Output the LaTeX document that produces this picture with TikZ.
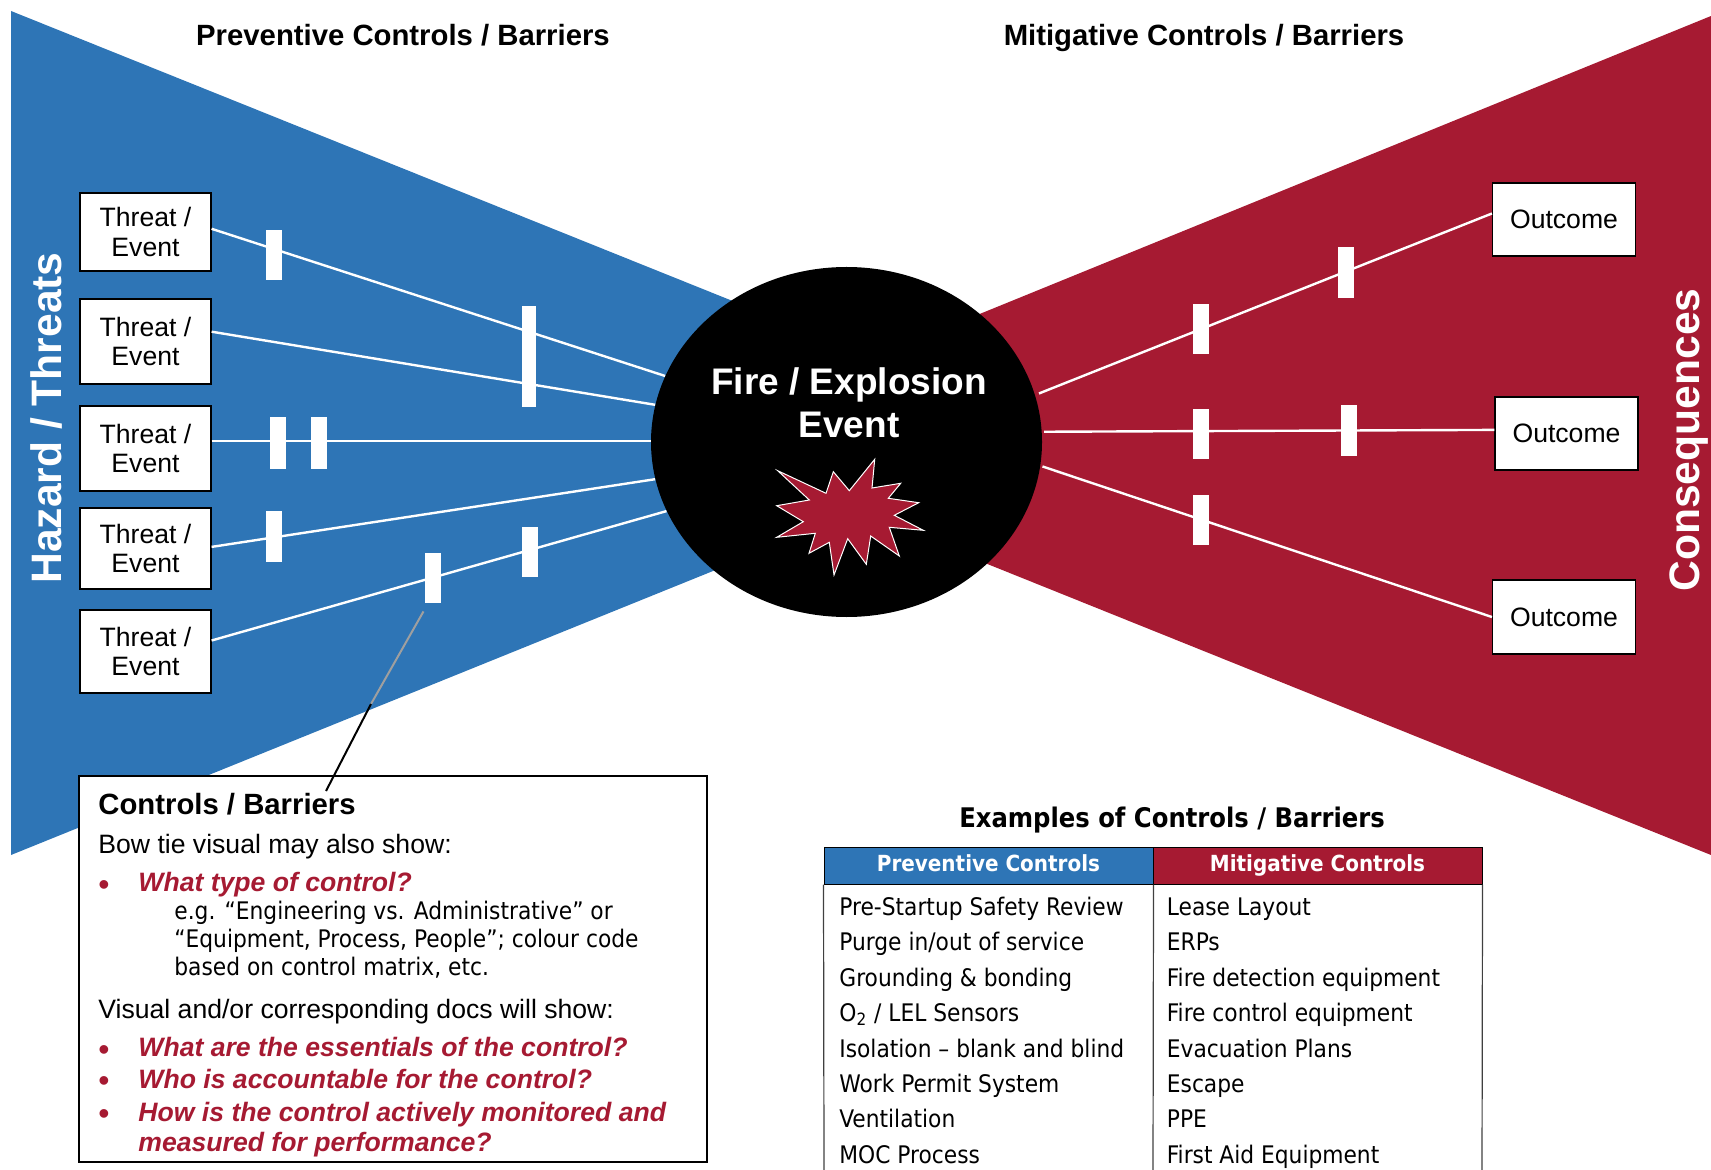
\documentclass[tikz,border=0pt]{standalone}
\usepackage{fontspec}
\setmainfont{Liberation Sans}
\newfontfamily\tablefont{DejaVu Sans Condensed}
\usetikzlibrary{shapes.geometric}
\definecolor{tieblue}{RGB}{46,117,182}
\definecolor{tiered}{RGB}{166,26,50}
\tikzset{
  threatbox/.style={draw=black,fill=white,line width=0.6pt,align=center,font=\fontsize{13.3}{14.6}\selectfont,inner sep=0pt},
  barrier/.style={fill=white,inner sep=0pt,minimum width=8pt},
  whiteline/.style={draw=white,line width=1.2pt},
  bodytext/.style={anchor=base west,inner sep=0pt,font=\fontsize{13.3}{16}\selectfont},
  redtext/.style={anchor=base west,inner sep=0pt,text=tiered,font=\fontsize{13.3}{16}\selectfont\bfseries\itshape},
  reddot/.style={anchor=base west,inner sep=0pt,text=tiered,font=\fontsize{16}{16}\selectfont},
  smalltext/.style={anchor=base west,inner sep=0pt,font=\tablefont\fontsize{12.1}{14}\selectfont},
  bigtext/.style={inner sep=0pt,text=white,font=\fontsize{21.3}{24}\selectfont\bfseries},
  headtext/.style={inner sep=0pt,font=\fontsize{14.65}{16}\selectfont\bfseries},
  headcell/.style={draw=black,line width=0.5pt,inner sep=0pt,minimum width=164.5pt,minimum height=18.5pt,text height=8.6pt,text depth=2.9pt,text=white,font=\tablefont\fontsize{11.1}{14}\selectfont\bfseries},
  tableline/.style={line width=0.6pt,black!75}
}
\begin{document}
\begin{tikzpicture}[x=0.5pt,y=-0.5pt]
\useasboundingbox (0,0) rectangle (1711,1170);

\fill[tieblue] (11,11) -- (760,312) -- (760,552) -- (11,855) -- cycle;
\fill[tiered] (1711,16) -- (960,322) -- (960,553) -- (1711,855) -- cycle;

\node[threatbox,minimum width=65.5pt,minimum height=39pt] (threat1) at (145.5,232) {Threat /\\Event};
\node[threatbox,minimum width=65.5pt,minimum height=42.5pt] (threat2) at (145.5,341.5) {Threat /\\Event};
\node[threatbox,minimum width=65.5pt,minimum height=42.5pt] (threat3) at (145.5,448.5) {Threat /\\Event};
\node[threatbox,minimum width=65.5pt,minimum height=40.5pt] (threat4) at (145.5,548.5) {Threat /\\Event};
\node[threatbox,minimum width=65.5pt,minimum height=41.5pt] (threat5) at (145.5,651.5) {Threat /\\Event};

\node[threatbox,minimum width=71.5pt,minimum height=36.5pt] (outcome1) at (1564,219.5) {Outcome};
\node[threatbox,minimum width=71.5pt,minimum height=36.5pt] (outcome2) at (1566.5,433.5) {Outcome};
\node[threatbox,minimum width=71.5pt,minimum height=37pt] (outcome3) at (1564,617) {Outcome};

\node[ellipse,fill=black,inner sep=0pt,minimum width=195.5pt,minimum height=175pt] (event) at (846.5,442) {};

\draw[whiteline] ([yshift=1.6pt]threat1.east) -- (event.160);
\draw[whiteline] ([yshift=4.9pt]threat2.east) -- (event.169);
\draw[whiteline] ([yshift=3.75pt]threat3.east) -- ([yshift=0.5pt]event.180);
\draw[whiteline] ([yshift=0.8pt]threat4.east) -- (event.191);
\draw[whiteline] ([yshift=5.5pt]threat5.east) -- (event.201);
\draw[whiteline,shorten >=2pt] ([yshift=3pt]outcome1.west) -- (event.14);
\draw[whiteline,shorten >=1pt] ([yshift=1.8pt]outcome2.west) -- (event.3.5);
\draw[whiteline,shorten >=1pt] (outcome3.west) -- (event.-7);

\node[barrier,minimum height=25pt] (bar1) at (274,255) {};
\node[barrier,minimum width=7pt,minimum height=50.5pt] (bar2) at (529,357) {};
\node[barrier,minimum height=25.5pt] (bar3) at (277.5,443) {};
\node[barrier,minimum height=25.5pt] (bar4) at (319,443) {};
\node[barrier,minimum height=25.5pt] (bar5) at (274,536) {};
\node[barrier,minimum height=25pt] (bar6) at (432.5,578) {};
\node[barrier,minimum height=25pt] (bar7) at (530,552) {};
\node[barrier,minimum height=25.5pt] (bar8) at (1345.5,273) {};
\node[barrier,minimum height=25pt] (bar9) at (1200.5,329) {};
\node[barrier,minimum height=25pt] (bar10) at (1200.5,434.5) {};
\node[barrier,minimum height=25.5pt] (bar11) at (1348.5,430.5) {};
\node[barrier,minimum height=25pt] (bar12) at (1200.5,520) {};

\node[bigtext,rotate=90] (hazard) at (46,418) {Hazard / Threats};
\node[bigtext,rotate=90] (consequences) at (1689,440) {Consequences};
\node[headtext,anchor=base] (prevhead) at (403,46) {Preventive Controls / Barriers};
\node[headtext,anchor=base] (mitihead) at (1204,46) {Mitigative Controls / Barriers};

\node[bigtext,align=center,font=\fontsize{18.5}{21.5}\selectfont\bfseries] (eventtext) at (849,403) {Fire / Explosion\\Event};
\draw[draw=white,fill=tiered,line width=0.5pt] (777.7,470.7) -- (826,493.3) -- (833.3,471.7) -- (849.3,490.7) -- (874.7,459.3) -- (872,488) -- (900.7,483.3) -- (888.3,498.3) -- (918.7,502.7) -- (894.3,515.3) -- (923.3,530.3) -- (889.3,527.3) -- (899.3,556) -- (870.7,536) -- (866.3,564.3) -- (847.7,538.7) -- (834,575) -- (829.3,542.3) -- (809,553.3) -- (815.3,533.3) -- (776.7,537.3) -- (803.3,521.7) -- (776.7,505.7) -- (809.3,500) -- cycle;

\node[draw=black,fill=white,line width=0.6pt,inner sep=0pt,minimum width=314pt,minimum height=193pt] (ctrlbox) at (393,969) {};
\coordinate (leaderend) at (326,791);
\coordinate (leadermid) at (371,704);
\draw[line width=1pt,gray!75] (bar6.south)++(-9,8) -- (leadermid);
\draw[line width=1pt,black] (leadermid) -- (leaderend);

\node[headtext,anchor=base west] (ctrltitle) at (98,814) {Controls / Barriers};
\node[bodytext] (ctrl1) at (98,853) {Bow tie visual may also show:};
\node[reddot] (dot1) at (98,895) {•};
\node[redtext] (ctrl2) at (138,891) {What type of control?};
\node[smalltext] (ctrl3) at (174,919) {e.g. “Engineering vs. Administrative” or};
\node[smalltext] (ctrl4) at (174,947) {“Equipment, Process, People”; colour code};
\node[smalltext] (ctrl5) at (174,975) {based on control matrix, etc.};
\node[bodytext] (ctrl6) at (98,1018) {Visual and/or corresponding docs will show:};
\node[reddot] (dot2) at (98,1060) {•};
\node[redtext] (ctrl7) at (138,1056) {What are the essentials of the control?};
\node[reddot] (dot3) at (98,1091) {•};
\node[redtext] (ctrl8) at (138,1088) {Who is accountable for the control?};
\node[reddot] (dot4) at (98,1124) {•};
\node[redtext] (ctrl9) at (138,1121) {How is the control actively monitored and};
\node[redtext] (ctrl10) at (138,1151) {measured for performance?};

\node[inner sep=0pt,anchor=base,font=\tablefont\fontsize{13.5}{16}\selectfont\bfseries] (tabletitle) at (1172,827) {Examples of Controls / Barriers};
\node[headcell,fill=tieblue] (prevcell) at (988.5,865.5) {Preventive Controls};
\node[headcell,fill=tiered] (miticell) at (1317.5,865.5) {Mitigative Controls};
\coordinate (tableleft) at (824,1170);
\coordinate (tablemid) at (1153,1170);
\coordinate (tableright) at (1482,1170);
\draw[tableline] (prevcell.south west) -- (tableleft);
\draw[tableline] (prevcell.south east) -- (tablemid);
\draw[tableline] (miticell.south east) -- (tableright);

\node[smalltext] (prev1) at (839,915) {Pre-Startup Safety Review};
\node[smalltext] (prev2) at (839,950) {Purge in/out of service};
\node[smalltext] (prev3) at (839,986) {Grounding \& bonding};
\node[smalltext] (prev4) at (839,1021) {O\textsubscript{2} / LEL Sensors};
\node[smalltext] (prev5) at (839,1057) {Isolation – blank and blind};
\node[smalltext] (prev6) at (839,1092) {Work Permit System};
\node[smalltext] (prev7) at (839,1127) {Ventilation};
\node[smalltext] (prev8) at (839,1163) {MOC Process};
\node[smalltext] (miti1) at (1166.5,915) {Lease Layout};
\node[smalltext] (miti2) at (1166.5,950) {ERPs};
\node[smalltext] (miti3) at (1166.5,986) {Fire detection equipment};
\node[smalltext] (miti4) at (1166.5,1021) {Fire control equipment};
\node[smalltext] (miti5) at (1166.5,1057) {Evacuation Plans};
\node[smalltext] (miti6) at (1166.5,1092) {Escape};
\node[smalltext] (miti7) at (1166.5,1127) {PPE};
\node[smalltext] (miti8) at (1166.5,1163) {First Aid Equipment};
\end{tikzpicture}
\end{document}
